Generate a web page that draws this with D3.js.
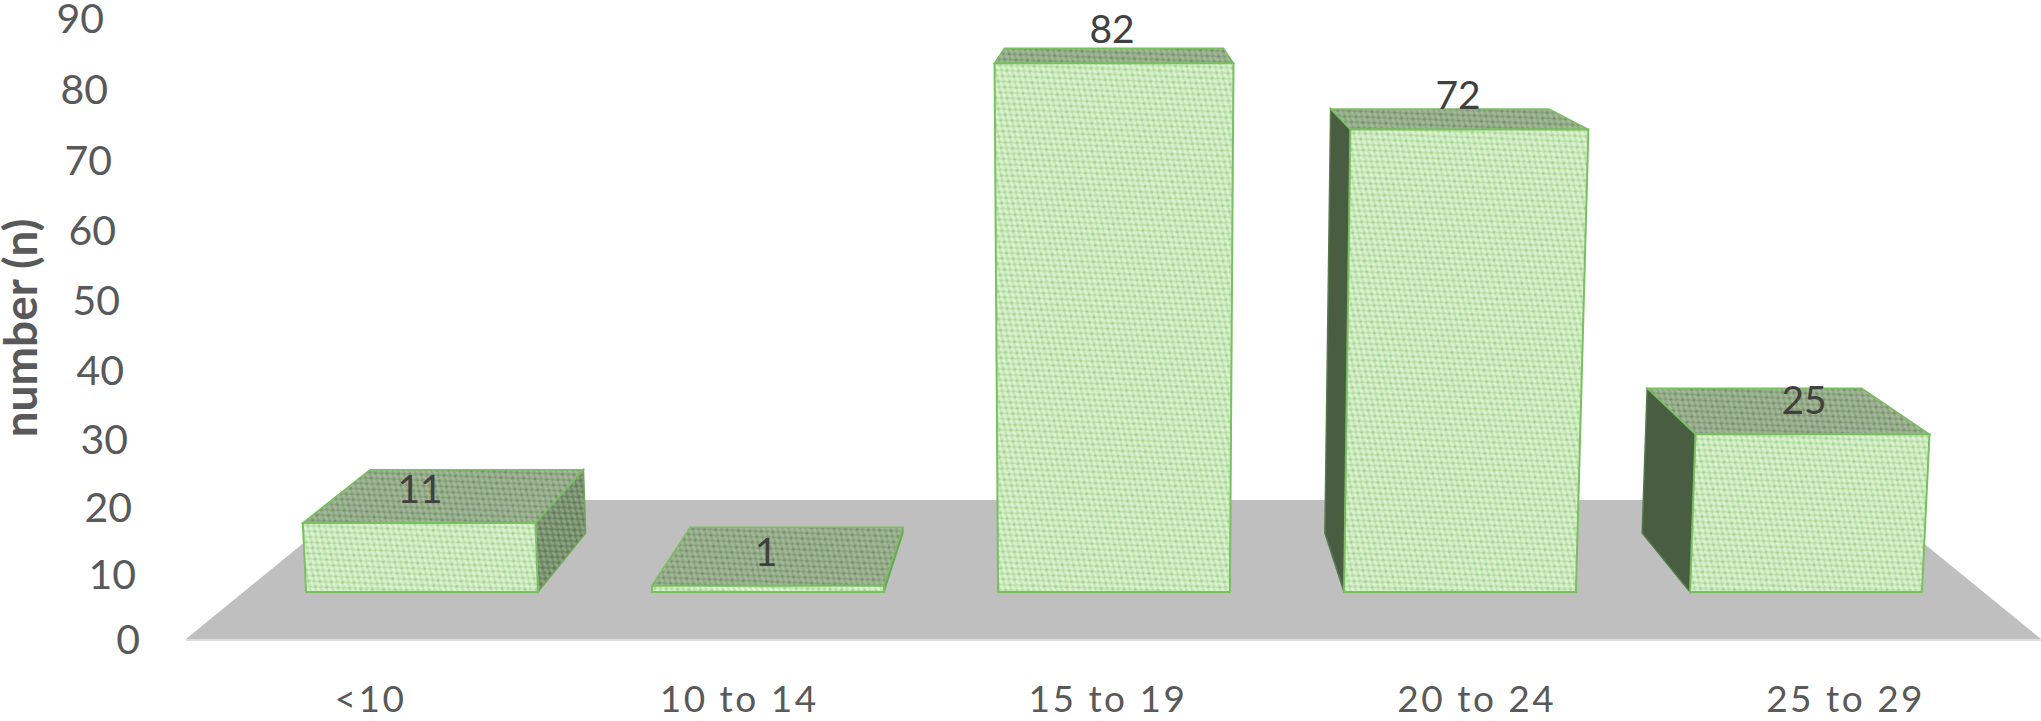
<!DOCTYPE html>
<html>
<head>
<meta charset="utf-8">
<script src="https://cdn.jsdelivr.net/npm/d3@7"></script>
<style>
  html, body { margin: 0; padding: 0; background: #fff; overflow: hidden; }
  svg { display: block; }
  text { font-family: Lato, "Open Sans", sans-serif; }
</style>
</head>
<body>
<svg id="chart" width="2041" height="721"></svg>
<script>
// Age groups and their counts
const categories = ["<10", "10 to 14", "15 to 19", "20 to 24", "25 to 29"];
const counts = [11, 1, 82, 72, 25];
const yTicks = [0, 10, 20, 30, 40, 50, 60, 70, 80, 90];
const yTitle = "number (n)";

const svg = d3.select("#chart");

// Perspective set-up: everything recedes towards one vanishing point
const vanish = { x: 1113, y: -118 };
const barDepth = 0.083;      // share of the way to the vanishing point covered by a bar
const floorDepth = 0.1836;   // same, for the floor
const tilt = 6e-5;           // widening and stretching per pixel of height
const baseY = 592;           // ground line of the bar fronts
const floorY = 639;

const barX = d3.scaleBand().domain(categories).range([249, 1979]).paddingInner(0.33).paddingOuter(0.165);
const barH = d3.scaleLinear().domain([0, 90]).range([0, 563]);
const labelX = d3.scaleBand().domain(categories).range([186, 2030]);
// The value axis stretches a little towards the top of the tilted plane
const axisY = d3.scalePow().exponent(1.03).domain([0, 90]).range([640, 19]);

// Front-plane position of a point at horizontal position x and a given value
function front(x, v) {
  const h = barH(v);
  const s = 1 + tilt * h;
  return [vanish.x + (x - vanish.x) * s, baseY - h * s];
}
// Move a point back in depth along its line to the vanishing point
function back(p, k) {
  return [p[0] + (vanish.x - p[0]) * k, p[1] + (vanish.y - p[1]) * k];
}
const poly = pts => pts.map(p => p.join(",")).join(" ");

// Knit-like fills for the faces
const defs = svg.append("defs");
function knit(id, base, light, dark) {
  const p = defs.append("pattern").attr("id", id).attr("patternUnits", "userSpaceOnUse")
    .attr("width", 9).attr("height", 7).attr("patternTransform", "rotate(40)");
  p.append("rect").attr("width", 9).attr("height", 7).attr("fill", base);
  p.append("ellipse").attr("cx", 2.25).attr("cy", 1.75).attr("rx", 2.7).attr("ry", 1.5).attr("fill", light);
  p.append("ellipse").attr("cx", 6.75).attr("cy", 5.25).attr("rx", 2.7).attr("ry", 1.5).attr("fill", light);
  p.append("circle").attr("cx", 6.75).attr("cy", 1.75).attr("r", 1.2).attr("fill", dark);
  p.append("circle").attr("cx", 2.25).attr("cy", 5.25).attr("r", 0.8).attr("fill", dark);
}
knit("knitFront", "#c2e4b1", "#ddf2d2", "#9dd28b");
knit("knitTop", "#8ea582", "#a3b898", "#728d67");
knit("knitSide", "#718a66", "#8fa286", "#5d7753");
defs.append("filter").attr("id", "soft").append("feGaussianBlur").attr("stdDeviation", 0.7);

// Floor of the chart
const floorL = [186, floorY], floorR = [2041, floorY];
svg.append("polygon")
  .attr("points", poly([floorL, floorR, back(floorR, floorDepth), back(floorL, floorDepth)]))
  .attr("fill", "#bfbfbf");
svg.append("line").attr("x1", floorL[0]).attr("x2", floorR[0]).attr("y1", floorY + 1).attr("y2", floorY + 1)
  .attr("stroke", "#dcdcdc").attr("stroke-width", 2);

// Bars as boxes: receding side, top, then the front
const edge = "#78c060";
const bars = svg.append("g").attr("filter", "url(#soft)");
categories.forEach((c, i) => {
  const v = counts[i];
  const x0 = barX(c), x1 = x0 + barX.bandwidth();
  const fbl = front(x0, 0), fbr = front(x1, 0), ftl = front(x0, v), ftr = front(x1, v);
  const bbl = back(fbl, barDepth), bbr = back(fbr, barDepth), btl = back(ftl, barDepth), btr = back(ftr, barDepth);
  const g = bars.append("g");
  if (bbl[0] < fbl[0]) {
    g.append("polygon").attr("points", poly([fbl, bbl, btl, ftl]))
      .attr("fill", "#4a5d43").attr("stroke", "#55794a").attr("stroke-width", 1.5);
  }
  if (bbr[0] > fbr[0]) {
    g.append("polygon").attr("points", poly([fbr, bbr, btr, ftr]))
      .attr("fill", "url(#knitSide)").attr("stroke", "#6fa65a").attr("stroke-width", 1.5);
  }
  g.append("polygon").attr("points", poly([ftl, ftr, btr, btl]))
    .attr("fill", "url(#knitTop)").attr("stroke", edge).attr("stroke-width", 1.5);
  g.append("polygon").attr("points", poly([fbl, fbr, ftr, ftl]))
    .attr("fill", "url(#knitFront)").attr("stroke", edge).attr("stroke-width", 2);
});

// Value labels sit just above the front top edge
svg.append("g").selectAll("text").data(categories).join("text")
  .attr("x", c => barX(c) + barX.bandwidth() / 2 - 2)
  .attr("y", (c, i) => front(0, counts[i])[1] - 20)
  .attr("text-anchor", "middle")
  .attr("font-size", 39).attr("fill", "#404040")
  .text((c, i) => counts[i]);

// Value axis: its labels drift left with height, following the tilted plane
const yAxis = svg.append("g").call(d3.axisLeft(axisY).tickValues(yTicks).tickSize(0));
yAxis.select(".domain").remove();
yAxis.selectAll("text")
  .attr("x", d => 140 - d * 0.4)
  .attr("dy", "0.33em")
  .attr("font-size", 41).attr("font-family", "Lato").attr("fill", "#595959");

// Category axis
const xAxis = svg.append("g").attr("transform", "translate(0,699)")
  .call(d3.axisBottom(labelX).tickSize(0));
xAxis.select(".domain").remove();
xAxis.selectAll("text")
  .attr("y", 0).attr("dy", "0.36em")
  .attr("font-size", 37).attr("font-family", "Lato").attr("letter-spacing", 2.5).attr("fill", "#595959");

// Value axis title
svg.append("text")
  .attr("transform", "translate(37,328) rotate(-90)")
  .attr("text-anchor", "middle")
  .attr("font-size", 46).attr("font-weight", 700).attr("fill", "#595959")
  .text(yTitle);
</script>
</body>
</html>
